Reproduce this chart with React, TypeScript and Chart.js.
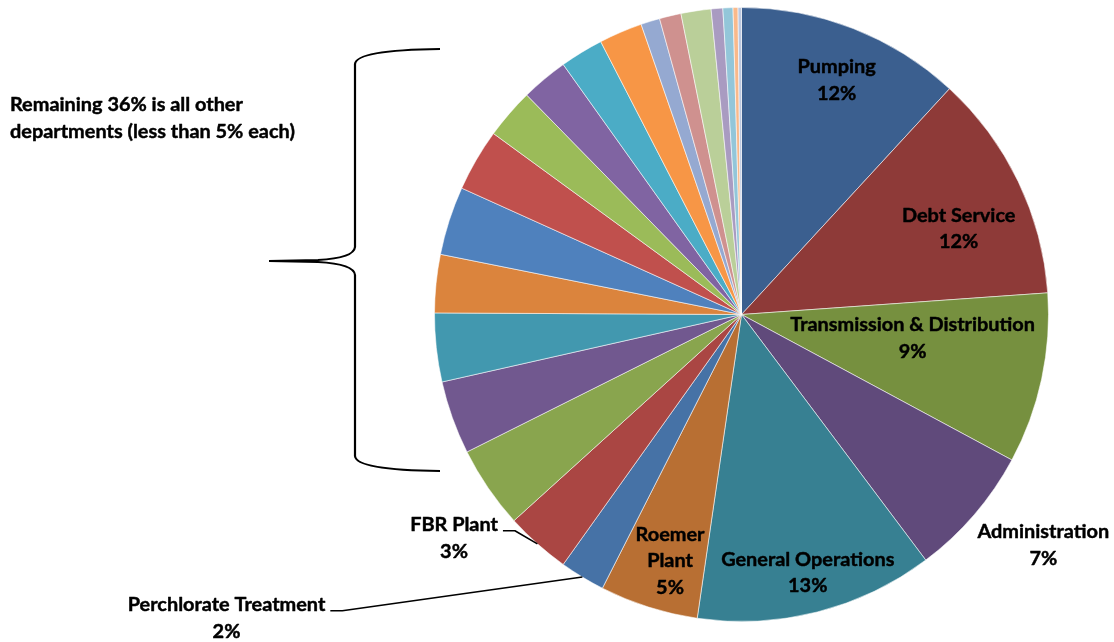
import React, { useEffect, useRef } from "react";
import { Chart, registerables } from "chart.js";

Chart.register(...registerables);

// ---------- data ----------
const departments = [
  "Pumping",
  "Debt Service",
  "Transmission & Distribution",
  "Administration",
  "General Operations",
  "Roemer Plant",
  "Perchlorate Treatment",
  "FBR Plant",
  "Other Department 1",
  "Other Department 2",
  "Other Department 3",
  "Other Department 4",
  "Other Department 5",
  "Other Department 6",
  "Other Department 7",
  "Other Department 8",
  "Other Department 9",
  "Other Department 10",
  "Other Department 11",
  "Other Department 12",
  "Other Department 13",
  "Other Department 14",
  "Other Department 15",
  "Other Department 16",
  "Other Department 17",
];

const shares = [
  11.85, 12.03, 8.98, 6.9, 12.55, 5.18, 2.38, 3.42,
  4.33, 3.86, 3.61, 3.06, 3.61, 3.28, 2.64, 2.47, 2.28, 2.28,
  1.0, 1.14, 1.58, 0.61, 0.53, 0.26, 0.18,
];

const sliceColors = [
  "#3B5F8F", "#8E3A38", "#76903F", "#604A7B", "#378092", "#B86F33",
  "#4672A6", "#AA4643", "#89A54E", "#71588F", "#4298AF", "#DB843D",
  "#4F81BD", "#C0504D", "#9BBB59", "#8064A2", "#4BACC6", "#F79646",
  "#95A9D1", "#CF918F", "#BACF99", "#A99BC1", "#93C6D9", "#F9B98B", "#BCC8E0",
];

// label text lines per labelled slice (index into departments)
const labelText: string[][] = [
  ["Pumping"],
  ["Debt Service"],
  ["Transmission & Distribution"],
  ["Administration"],
  ["General Operations"],
  ["Roemer", "Plant"],
  ["Perchlorate Treatment"],
  ["FBR Plant"],
];

// label block centre: [angle clockwise from 12 o'clock (deg), distance as fraction of radius]
const labelPlacement: number[][] = [
  [22.12, 0.8235],
  [68.36, 0.761],
  [97.92, 0.5627],
  [127.37, 1.237],
  [165.6, 0.868],
  [196.17, 0.836],
  [239.49, 1.947],
  [232.14, 1.186],
];

const leaderLabelIndexes = [6, 7];

const noteLines = ["Remaining 36% is all other", "departments (less than 5% each)"];

const FONT_FAMILY = "Lato, 'Open Sans', 'DejaVu Sans', sans-serif";

const overlayPlugin = {
  id: "overlay",
  afterDatasetsDraw(chart: any) {
    const ctx: CanvasRenderingContext2D = chart.ctx;
    const meta = chart.getDatasetMeta(0);
    const arc0: any = meta.data[0];
    const cx = arc0.x;
    const cy = arc0.y;
    const r = arc0.outerRadius;
    const total = shares.reduce((a, b) => a + b, 0);

    ctx.save();
    ctx.font = `bold 100px ${FONT_FAMILY}`;
    const fs = (100 * 245) / ctx.measureText("Transmission & Distribution").width;
    ctx.font = `bold ${fs}px ${FONT_FAMILY}`;
    ctx.fillStyle = "#000";
    ctx.strokeStyle = "#000";
    ctx.lineJoin = "round";
    ctx.textAlign = "center";
    ctx.textBaseline = "middle";
    const lh = 26.5;

    const heavyText = (t: string, x: number, y: number) => {
      ctx.lineWidth = 0.45;
      ctx.strokeText(t, x, y);
      ctx.fillText(t, x, y);
    };

    labelText.forEach((lines, i) => {
      const pct = Math.round((shares[i] / total) * 100) + "%";
      const all = [...lines, pct];
      const [angDeg, frac] = labelPlacement[i];
      const a = (angDeg * Math.PI) / 180;
      const bx = cx + frac * r * Math.sin(a);
      const by = cy - frac * r * Math.cos(a);
      const top = by - ((all.length - 1) * lh) / 2;
      let maxW = 0;
      all.forEach((t, k) => {
        heavyText(t, bx, top + k * lh);
        maxW = Math.max(maxW, ctx.measureText(t).width);
      });
      if (leaderLabelIndexes.includes(i)) {
        const arc: any = meta.data[i];
        const mid = (arc.startAngle + arc.endAngle) / 2;
        const ex = cx + r * Math.cos(mid);
        const ey = cy + r * Math.sin(mid);
        const sx = bx + maxW / 2 + 5;
        const sy = top + 6;
        ctx.beginPath();
        ctx.lineWidth = 1.6;
        ctx.moveTo(sx, sy);
        ctx.lineTo(sx + 12, sy);
        ctx.lineTo(ex, ey);
        ctx.stroke();
      }
    });

    // note text
    ctx.textAlign = "left";
    noteLines.forEach((t, k) => heavyText(t, 10, 105 + k * lh));

    // brace
    ctx.beginPath();
    ctx.lineWidth = 2.2;
    ctx.moveTo(440, 49);
    ctx.quadraticCurveTo(356, 50, 355, 64);
    ctx.lineTo(355, 247);
    ctx.quadraticCurveTo(354, 258, 318, 260);
    ctx.lineTo(269, 261);
    ctx.moveTo(269, 261);
    ctx.lineTo(318, 262);
    ctx.quadraticCurveTo(354, 264, 355, 275);
    ctx.lineTo(355, 456);
    ctx.quadraticCurveTo(356, 470, 440, 471);
    ctx.stroke();
    ctx.restore();
  },
};

export default function App() {
  const ref = useRef<HTMLCanvasElement>(null);
  useEffect(() => {
    const chart = new Chart(ref.current as HTMLCanvasElement, {
      type: "pie",
      data: {
        labels: departments,
        datasets: [
          {
            data: shares,
            backgroundColor: sliceColors,
            borderColor: "rgba(255,255,255,0.55)",
            borderWidth: 1,
          },
        ],
      },
      options: {
        responsive: false,
        animation: false,
        layout: { padding: { left: 434, top: 7, right: 65, bottom: 20 } },
        plugins: { legend: { display: false }, tooltip: { enabled: false } },
      },
      plugins: [overlayPlugin],
    } as any);
    return () => chart.destroy();
  }, []);
  return (
    <div style={{ position: "fixed", left: 0, top: 0, width: 1114, height: 642, background: "#fff" }}>
      <canvas ref={ref} width={1114} height={642} style={{ display: "block" }} />
    </div>
  );
}
